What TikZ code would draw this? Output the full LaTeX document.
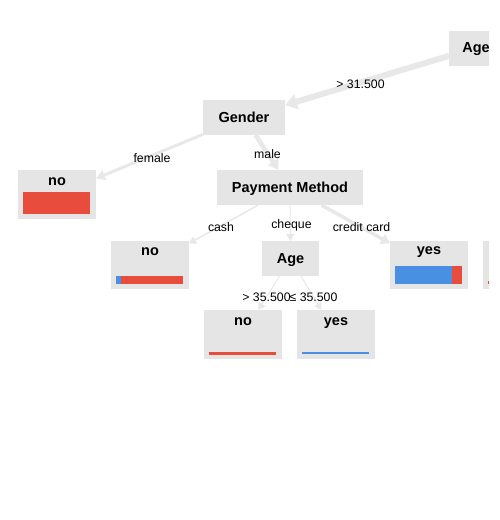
\documentclass[tikz,border=0pt]{standalone}
\usepackage{fontspec}
\setmainfont{Liberation Sans}
\usetikzlibrary{arrows.meta}
\definecolor{boxgray}{RGB}{229,229,229}
\definecolor{edgegray}{RGB}{232,232,232}
\definecolor{barred}{RGB}{231,76,60}
\definecolor{barblue}{RGB}{74,144,226}
\begin{document}
\begin{tikzpicture}[x=1pt,y=-1pt,
  inbox/.style={fill=boxgray, draw=none, inner sep=0pt, outer sep=0pt, text depth=0pt,
    minimum height=35pt, font=\fontsize{14.5}{17}\selectfont\bfseries},
  leafbox/.style={fill=boxgray, draw=none, inner sep=0pt, outer sep=0pt,
    minimum width=78pt, minimum height=48pt},
  ttl/.style={anchor=base, inner sep=0pt, font=\fontsize{14.5}{17}\selectfont\bfseries},
  elabel/.style={anchor=base, inner sep=0pt, text=black, font=\fontsize{12.3}{14}\selectfont},
  edgeline/.style={draw=edgegray}
]
\useasboundingbox (0,0) rectangle (499,520);
\begin{scope}
\clip (0,0) rectangle (489,520);
% internal nodes
\node[inbox, minimum width=52pt] (age1) at (475,48) {\hspace*{2pt}Age};
\node[inbox, minimum width=82pt] (gender) at (244,117.5) {Gender};
\node[inbox, minimum width=146pt] (pm) at (290,187.5) {Payment Method};
\node[inbox, minimum width=57pt] (age2) at (290.5,258.5) {Age};
% leaves
\node[leafbox, minimum height=49pt] (noA) at (57,194.5) {};
\node[leafbox] (noB) at (150,265) {};
\node[leafbox] (yesA) at (429,265) {};
\node[leafbox] (part) at (522,265) {};
\node[leafbox, minimum height=49pt] (noC) at (243,334.5) {};
\node[leafbox, minimum height=49pt] (yesB) at (336,334.5) {};
% leaf titles
\node[ttl] (noAt) at (57,185.5) {no};
\node[ttl] (noBt) at (150,255) {no};
\node[ttl] (yesAt) at (429,254) {yes};
\node[ttl] (noCt) at (243,325) {no};
\node[ttl] (yesBt) at (336,325) {yes};
% bars
\fill[barred] (23,192) rectangle (90,213.5);
\fill[barblue] (116,275.5) rectangle (120.5,283.5);
\fill[barred] (120.5,275.5) rectangle (183,283.5);
\fill[barblue] (395,265.5) rectangle (452,283.5);
\fill[barred] (452,265.5) rectangle (462,283.5);
\fill[barred] (487.5,281) rectangle (489,283.5);
\fill[barred] (209,351.5) rectangle (276,354.5);
\fill[barblue] (302,352.3) rectangle (369,354.3);
% edges
\draw[edgeline, line width=6pt, -{Triangle[length=12pt,width=15pt]}] (age1) -- (gender);
\draw[edgeline, line width=3pt, -{Triangle[length=9pt,width=10pt]}] (gender) -- (noA);
\draw[edgeline, line width=4.5pt, -{Triangle[length=10pt,width=12pt]}] (gender) -- (pm);
\draw[edgeline, line width=1.5pt, -{Triangle[length=7pt,width=8pt]}] (pm) -- (noB);
\draw[edgeline, line width=1pt, -{Triangle[length=7pt,width=8pt]}] (pm) -- (age2);
\draw[edgeline, line width=3.5pt, -{Triangle[length=9pt,width=11pt]}] (pm) -- (yesA);
\draw[edgeline, line width=1pt, -{Triangle[length=7pt,width=8pt]}] (age2) -- (noC);
\draw[edgeline, line width=1pt, -{Triangle[length=7pt,width=8pt]}] (age2) -- (yesB);
% edge labels
\node[elabel] (l1) at (360.5,88) {> 31.500};
\node[elabel] (l2) at (152,162) {female};
\node[elabel] (l3) at (267.5,158) {male};
\node[elabel] (l4) at (221,231) {cash};
\node[elabel] (l5) at (291.5,228) {cheque};
\node[elabel] (l6) at (361.5,231) {credit card};
\node[elabel] (l7) at (266.5,301) {> 35.500};
\node[elabel] (l8) at (313.5,301) {≤ 35.500};
\end{scope}
\end{tikzpicture}
\end{document}
